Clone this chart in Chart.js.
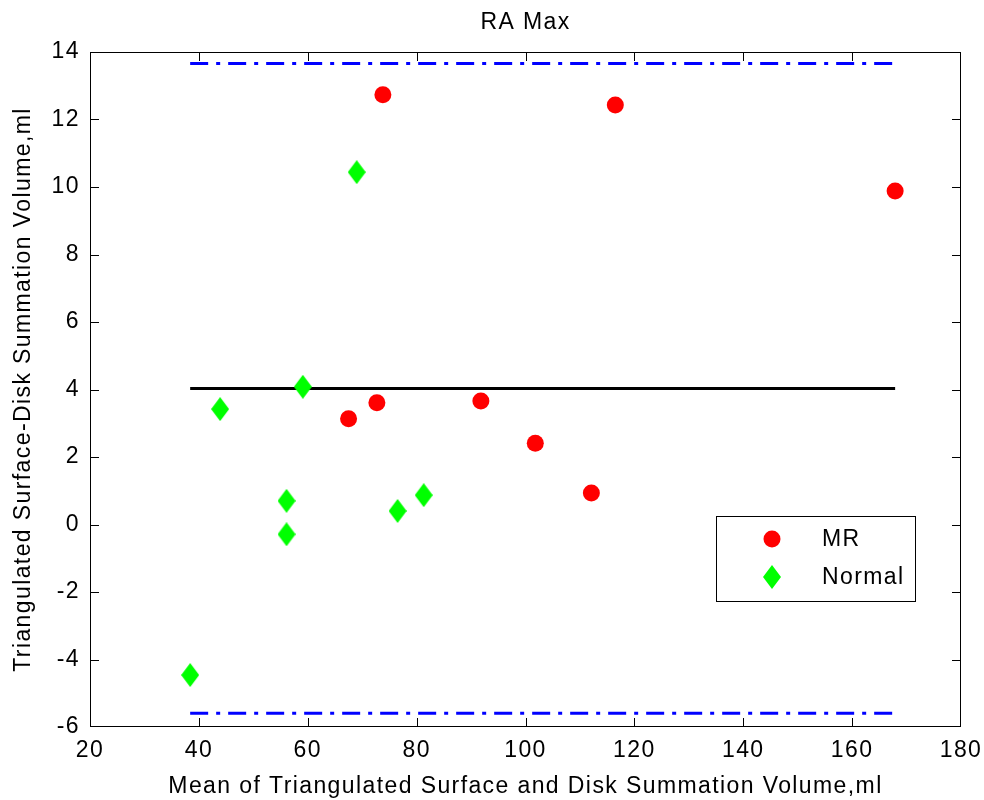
<!DOCTYPE html>
<html>
<head>
<meta charset="utf-8">
<title>RA Max</title>
<script src="https://cdn.jsdelivr.net/npm/chart.js@4"></script>
<style>
  html, body { margin: 0; padding: 0; background: #ffffff; }
  #wrap { width: 984px; height: 800px; }
</style>
</head>
<body>
<div id="wrap"><canvas id="chart" width="984" height="800"></canvas></div>
<script>
// Bland-Altman data: mean of the two volumes (x) and their difference (y), ml
const mrMean = [73.8, 116.5, 167.9, 67.5, 72.7, 91.8, 101.8, 112.1];
const mrDiff = [12.73, 12.43, 9.88, 3.13, 3.61, 3.66, 2.41, 0.93];
const normalMean = [69.0, 43.9, 59.1, 56.1, 56.1, 76.5, 81.3, 38.4];
const normalDiff = [10.44, 3.42, 4.08, 0.70, -0.29, 0.40, 0.87, -4.46];

// Bias and limits of agreement, drawn across the range of the means
const lineSpan = [38.4, 167.9];
const meanDiff = 4.03;
const upperLimit = 13.66;
const lowerLimit = -5.59;

// Axis ticks
const xTicks = [20, 40, 60, 80, 100, 120, 140, 160, 180];
const yTicks = [-6, -4, -2, 0, 2, 4, 6, 8, 10, 12, 14];

const seriesNames = ['MR', 'Normal'];
const titleText = 'RA Max';
const xTitle = 'Mean of Triangulated Surface and Disk Summation Volume,ml';
const yTitle = 'Triangulated Surface-Disk Summation Volume,ml';

const FONT = '"Liberation Sans", Arial, Helvetica, sans-serif';
const FONT_SIZE = 23;

const toPoints = (xs, ys) => xs.map((v, i) => ({ x: v, y: ys[i] }));
const hLine = (v) => lineSpan.map(x => ({ x: x, y: v }));

// Tall green diamond marker
function makeDiamond(w, h, color) {
  const c = document.createElement('canvas');
  c.width = w; c.height = h;
  const g = c.getContext('2d');
  g.fillStyle = color;
  g.beginPath();
  g.moveTo(w / 2, 0);
  g.lineTo(w, h / 2);
  g.lineTo(w / 2, h);
  g.lineTo(0, h / 2);
  g.closePath();
  g.fill();
  return c;
}
const diamond = makeDiamond(18, 24, '#00ff00');

// Box outline with inward tick marks on all four sides
const framePlugin = {
  id: 'frame',
  beforeDraw(chart) {
    chart.ctx.letterSpacing = '1.4px';
  },
  beforeDatasetsDraw(chart) {
    const { ctx, chartArea: a, scales } = chart;
    const tl = 9;
    ctx.save();
    ctx.strokeStyle = '#000000';
    ctx.lineWidth = 1;
    ctx.strokeRect(a.left + 0.5, a.top + 0.5, a.right - a.left - 1, a.bottom - a.top - 1);
    ctx.beginPath();
    xTicks.slice(1, -1).forEach(v => {
      const px = Math.round(scales.x.getPixelForValue(v)) + 0.5;
      ctx.moveTo(px, a.bottom); ctx.lineTo(px, a.bottom - tl);
      ctx.moveTo(px, a.top); ctx.lineTo(px, a.top + tl);
    });
    yTicks.slice(1, -1).forEach(v => {
      const py = Math.round(scales.y.getPixelForValue(v)) + 0.5;
      ctx.moveTo(a.left, py); ctx.lineTo(a.left + tl, py);
      ctx.moveTo(a.right, py); ctx.lineTo(a.right - tl, py);
    });
    ctx.stroke();
    ctx.restore();
  },
  afterDatasetsDraw(chart) {
    // Legend box in the lower right of the plot
    const { ctx, chartArea: a } = chart;
    const bx = a.right - 245, by = a.bottom - 211, bw = 199, bh = 85;
    ctx.save();
    ctx.fillStyle = '#ffffff';
    ctx.fillRect(bx, by, bw, bh);
    ctx.strokeStyle = '#000000';
    ctx.lineWidth = 1;
    ctx.strokeRect(bx + 0.5, by + 0.5, bw, bh);
    const rows = [by + 23, by + 61];
    seriesNames.forEach((name, i) => {
      const ds = chart.data.datasets[i];
      const mx = bx + 56, my = rows[i];
      ctx.fillStyle = ds.backgroundColor;
      ctx.strokeStyle = ds.borderColor;
      Chart.helpers.drawPoint(ctx, {
        pointStyle: ds.pointStyle, radius: ds.pointRadius, rotation: 0, borderWidth: 0
      }, mx, my);
      ctx.fillStyle = '#000000';
      ctx.font = FONT_SIZE + 'px ' + FONT;
      ctx.textAlign = 'left';
      ctx.textBaseline = 'middle';
      ctx.fillText(name, bx + 106, my + 1);
    });
    ctx.restore();
  },
  afterDraw(chart) {
    const { ctx, chartArea: a } = chart;
    ctx.save();
    ctx.fillStyle = '#000000';
    ctx.font = FONT_SIZE + 'px ' + FONT;
    ctx.textAlign = 'center';
    ctx.textBaseline = 'middle';
    ctx.fillText(titleText, (a.left + a.right) / 2, 23);
    ctx.restore();
  }
};

new Chart(document.getElementById('chart'), {
  type: 'scatter',
  data: {
    datasets: [
      {
        label: seriesNames[0],
        data: toPoints(mrMean, mrDiff),
        pointStyle: 'circle',
        pointRadius: 8.5,
        pointBorderWidth: 0,
        backgroundColor: '#ff0000',
        borderColor: '#ff0000'
      },
      {
        label: seriesNames[1],
        data: toPoints(normalMean, normalDiff),
        pointStyle: diamond,
        pointRadius: 10,
        pointBorderWidth: 0,
        backgroundColor: '#00ff00',
        borderColor: '#00ff00'
      },
      {
        type: 'line',
        label: 'Mean difference',
        data: hLine(meanDiff),
        borderColor: '#000000',
        borderWidth: 3,
        pointRadius: 0,
        fill: false
      },
      {
        type: 'line',
        label: 'Upper limit',
        data: hLine(upperLimit),
        borderColor: '#0000ff',
        borderWidth: 3,
        borderDash: [18, 8, 4, 8],
        pointRadius: 0,
        fill: false
      },
      {
        type: 'line',
        label: 'Lower limit',
        data: hLine(lowerLimit),
        borderColor: '#0000ff',
        borderWidth: 3,
        borderDash: [18, 8, 4, 8],
        pointRadius: 0,
        fill: false
      }
    ]
  },
  options: {
    responsive: false,
    animation: false,
    layout: { padding: { top: 52, right: 23, left: 0, bottom: 0 } },
    plugins: {
      legend: { display: false },
      title: { display: false },
      tooltip: { enabled: false }
    },
    scales: {
      x: {
        type: 'linear',
        min: 20, max: 180,
        afterFit(s) { s.height = 73; s.paddingLeft = 0; s.paddingRight = 0; },
        afterBuildTicks(s) { s.ticks = xTicks.map(v => ({ value: v })); },
        grid: { display: false, drawTicks: false },
        border: { display: false },
        ticks: {
          color: '#000000',
          padding: 10,
          maxRotation: 0,
          font: { family: FONT, size: FONT_SIZE }
        },
        title: {
          display: true,
          text: xTitle,
          color: '#000000',
          padding: { top: 6, bottom: 0 },
          font: { family: FONT, size: FONT_SIZE }
        }
      },
      y: {
        type: 'linear',
        min: -6, max: 14,
        afterFit(s) { s.width = 90; s.paddingTop = 0; s.paddingBottom = 0; },
        afterBuildTicks(s) { s.ticks = yTicks.map(v => ({ value: v })); },
        grid: { display: false, drawTicks: false },
        border: { display: false },
        ticks: {
          color: '#000000',
          padding: 10,
          font: { family: FONT, size: FONT_SIZE }
        },
        title: {
          display: true,
          text: yTitle,
          color: '#000000',
          padding: { top: 10, bottom: 0 },
          font: { family: FONT, size: FONT_SIZE }
        }
      }
    }
  },
  plugins: [framePlugin]
});
</script>
</body>
</html>
